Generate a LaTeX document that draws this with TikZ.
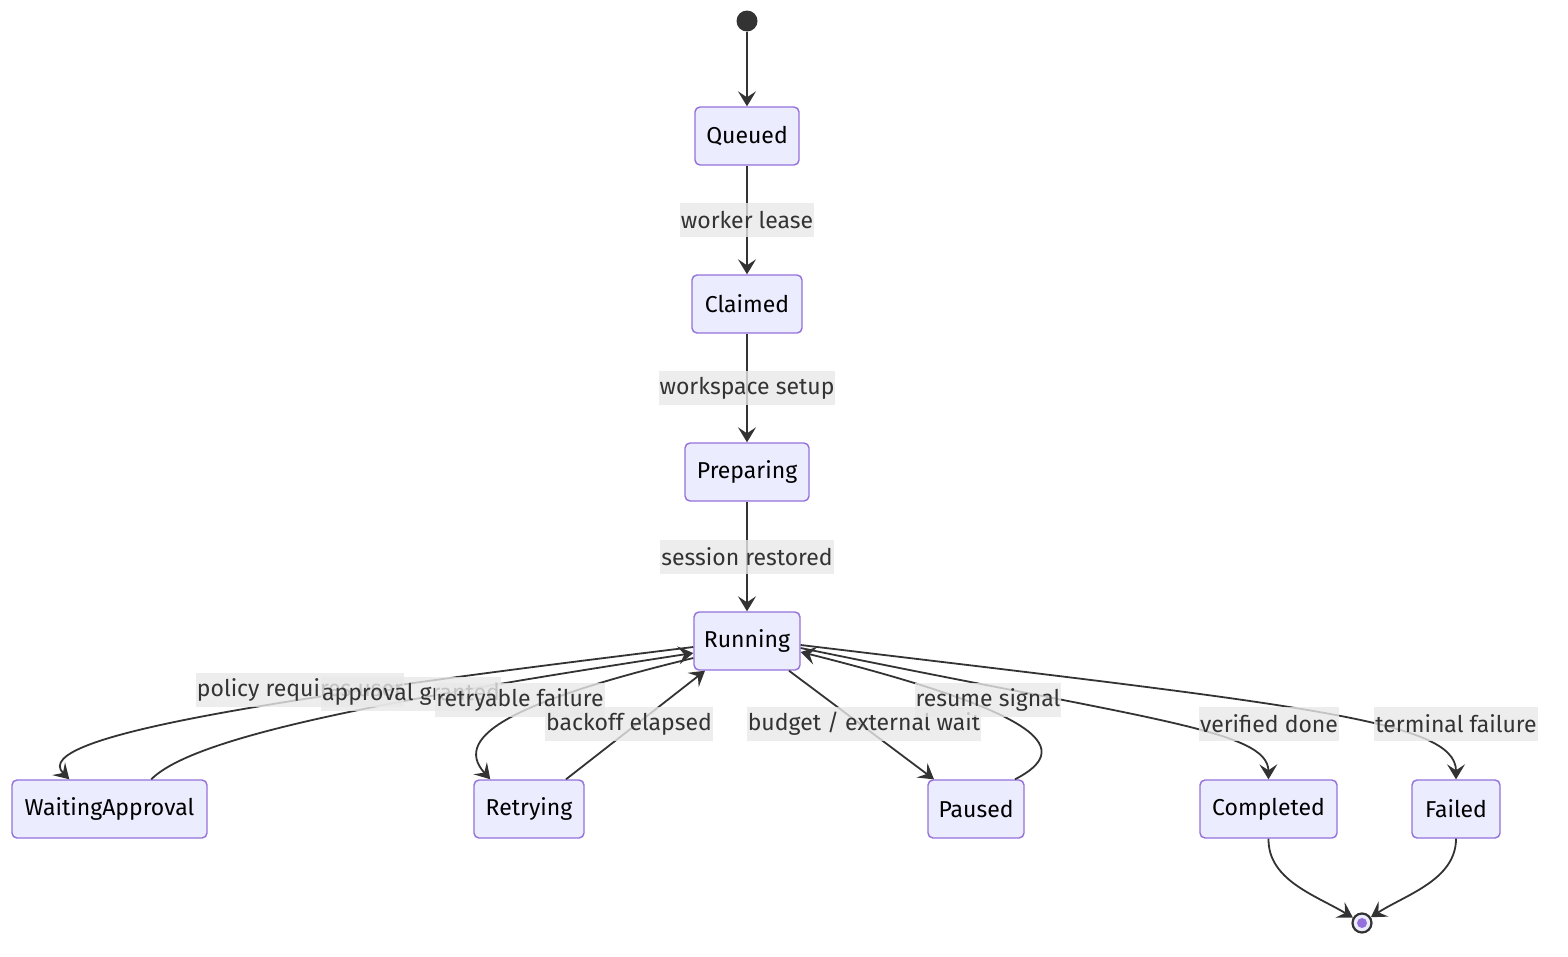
\documentclass[tikz,border=0pt]{standalone}
\usepackage{fontspec}
\setmainfont{Fira Sans}
\usetikzlibrary{arrows.meta,calc}
\definecolor{nodefill}{HTML}{ECECFF}
\definecolor{nodeborder}{HTML}{9370DB}
\definecolor{edgecol}{HTML}{333333}
\definecolor{labelbg}{HTML}{E8E8E8}
\begin{document}
\begin{tikzpicture}[x=1pt,y=-1pt,
  state/.style={draw=nodeborder,fill=nodefill,line width=1.4pt,rounded corners=5pt,
    minimum height=58pt,inner sep=0pt,font=\fontsize{23}{26}\selectfont,text=black},
  elabel/.style={fill=labelbg,fill opacity=0.8,text opacity=1,text=edgecol,inner xsep=1pt,
    inner ysep=0pt,minimum height=34pt,font=\fontsize{23}{26}\selectfont},
  trans/.style={draw=edgecol,line width=1.8pt,-{Stealth[length=15pt,width=18pt,inset=6pt]}},
]
\useasboundingbox (0,0) rectangle (1568,956);
% nodes
\node[circle,fill=edgecol,minimum size=21pt,inner sep=0pt] (start) at (747,21) {};
\node[state,minimum width=104pt] (q) at (747,136) {Queued};
\node[state,minimum width=110pt] (c) at (747,304) {Claimed};
\node[state,minimum width=124pt] (p) at (747,472) {Preparing};
\node[state,minimum width=106pt] (r) at (747,641) {Running};
\node[state,minimum width=195pt] (wa) at (109.5,809) {WaitingApproval};
\node[state,minimum width=110pt] (rt) at (529,809) {Retrying};
\node[state,minimum width=96pt] (pa) at (976,809) {Paused};
\node[state,minimum width=137pt] (co) at (1268.5,809) {Completed};
\node[state,minimum width=88pt] (fa) at (1456,809) {Failed};
\node[circle,draw=edgecol,line width=2.2pt,fill=nodefill,minimum size=19pt,inner sep=0pt] (end) at (1362,923) {};
\fill[nodeborder] (end) circle (5pt);
% edges
\draw[trans] (start) -- (q);
\draw[trans] (q) -- (c);
\draw[trans] (c) -- (p);
\draw[trans] (p) -- (r);
\draw[trans] ($(r.west)+(0,6)$) .. controls (300,695) and (25,735) .. ($(wa.north west)+(58,0)$);
\draw[trans] ($(wa.north west)+(140,0)$) .. controls (195,735) and (400,698) .. ($(r.west)+(0,12)$);
\draw[trans] ($(r.west)+(0,17)$) .. controls (520,700) and (450,735) .. ($(rt.north west)+(17,0)$);
\draw[trans] ($(rt.north)+(37,0)$) -- ($(r.south)+(-42,0)$);
\draw[trans] ($(r.south)+(42,0)$) -- ($(pa.north)+(-42,0)$);
\draw[trans] ($(pa.north)+(39,0)$) .. controls (1072,750) and (1052,715) .. ($(r.east)+(0,11)$);
\draw[trans] ($(r.east)+(0,7)$) .. controls (1150,720) and (1268,730) .. (co.north);
\draw[trans] ($(r.east)+(0,4)$) .. controls (1300,705) and (1456,720) .. (fa.north);
\draw[trans] (co.south) .. controls (1268,880) and (1315,895) .. (end);
\draw[trans] (fa.south) .. controls (1456,880) and (1405,895) .. (end);
% labels
\node[elabel] (l1) at (747,220) {worker lease};
\node[elabel] (l2) at (747,388) {workspace setup};
\node[elabel] (l3) at (747,557) {session restored};
\node[elabel] (l4) at (300,690) {policy requires user};
\node[elabel] (l5) at (411,694) {approval granted};
\node[elabel] (l6) at (520,700) {retryable failure};
\node[elabel] (l7) at (629,724) {backoff elapsed};
\node[elabel] (l8) at (864,724) {budget / external wait};
\node[elabel] (l9) at (988,700) {resume signal};
\node[elabel] (l10) at (1269,724) {verified done};
\node[elabel] (l11) at (1456,724) {terminal failure};
\end{tikzpicture}
\end{document}
